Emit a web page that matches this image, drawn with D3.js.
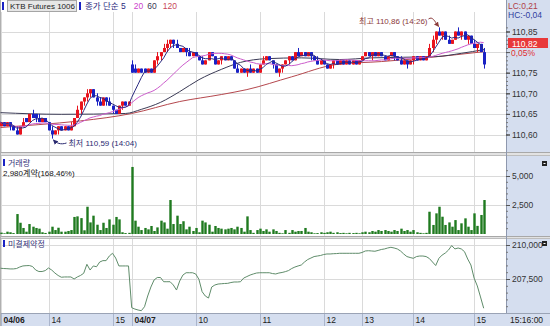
<!DOCTYPE html>
<html><head><meta charset="utf-8">
<script src="https://cdn.jsdelivr.net/npm/d3@7/dist/d3.min.js"></script>
<style>html,body{margin:0;padding:0;background:#fff}svg{display:block}</style>
</head><body>
<svg id="chart" width="550" height="326"></svg>
<script>
// ---------- DATA (3-minute bars, 04/06 afternoon + 04/07) ----------
const openP=[110.62,110.63,110.62,110.63,110.62,110.61,110.60,110.62,110.64,110.63,
110.65,110.65,110.64,110.63,110.64,110.63,110.61,110.60,110.61,110.62,
110.61,110.62,110.61,110.62,110.64,110.66,110.68,110.69,110.70,110.71,
110.69,110.68,110.67,110.69,110.68,110.67,110.66,110.65,110.67,110.68,
110.67,110.77,110.76,110.75,110.76,110.76,110.75,110.76,110.75,110.78,
110.79,110.80,110.81,110.82,110.83,110.82,110.81,110.80,110.81,110.80,
110.79,110.80,110.79,110.78,110.77,110.78,110.80,110.79,110.77,110.78,
110.79,110.78,110.79,110.78,110.76,110.75,110.76,110.75,110.76,110.75,
110.76,110.75,110.77,110.78,110.79,110.78,110.77,110.75,110.76,110.77,
110.78,110.79,110.78,110.80,110.79,110.80,110.79,110.80,110.79,110.78,
110.77,110.78,110.77,110.76,110.77,110.78,110.77,110.78,110.77,110.78,
110.77,110.78,110.77,110.78,110.79,110.80,110.79,110.80,110.79,110.80,
110.79,110.78,110.79,110.80,110.79,110.78,110.77,110.78,110.77,110.78,
110.79,110.78,110.79,110.78,110.79,110.81,110.83,110.85,110.84,110.85,
110.83,110.82,110.83,110.85,110.84,110.85,110.83,110.84,110.82,110.81,
110.82,110.80];
const highP=[110.63,110.63,110.63,110.63,110.62,110.62,110.62,110.64,110.64,110.65,
110.66,110.65,110.65,110.64,110.64,110.63,110.62,110.61,110.62,110.62,
110.62,110.62,110.63,110.64,110.67,110.68,110.69,110.71,110.71,110.71,
110.70,110.69,110.69,110.69,110.69,110.67,110.66,110.67,110.68,110.68,
110.68,110.78,110.77,110.76,110.76,110.76,110.76,110.76,110.78,110.80,
110.80,110.82,110.83,110.83,110.83,110.83,110.81,110.81,110.81,110.81,
110.80,110.80,110.79,110.79,110.78,110.80,110.80,110.79,110.78,110.79,
110.79,110.79,110.79,110.78,110.77,110.76,110.76,110.76,110.77,110.76,
110.76,110.77,110.79,110.79,110.79,110.78,110.77,110.76,110.77,110.78,
110.79,110.79,110.80,110.81,110.80,110.80,110.80,110.80,110.79,110.79,
110.78,110.78,110.77,110.77,110.78,110.78,110.78,110.78,110.78,110.78,
110.78,110.78,110.78,110.79,110.80,110.80,110.80,110.80,110.80,110.80,
110.79,110.79,110.80,110.80,110.79,110.79,110.78,110.78,110.78,110.79,
110.79,110.79,110.79,110.79,110.82,110.84,110.85,110.86,110.85,110.85,
110.84,110.83,110.85,110.86,110.85,110.85,110.84,110.84,110.83,110.82,
110.82,110.81];
const lowP=[110.62,110.62,110.62,110.61,110.61,110.60,110.60,110.62,110.63,110.63,
110.64,110.63,110.63,110.63,110.63,110.61,110.59,110.60,110.60,110.61,
110.61,110.61,110.61,110.62,110.64,110.65,110.67,110.68,110.69,110.69,
110.67,110.67,110.67,110.67,110.67,110.65,110.65,110.65,110.66,110.67,
110.67,110.75,110.75,110.75,110.75,110.75,110.75,110.75,110.75,110.77,
110.78,110.80,110.80,110.81,110.81,110.81,110.80,110.80,110.79,110.79,
110.79,110.79,110.78,110.77,110.77,110.78,110.79,110.77,110.77,110.77,
110.78,110.78,110.78,110.76,110.75,110.75,110.75,110.74,110.75,110.75,
110.75,110.75,110.77,110.78,110.78,110.76,110.75,110.74,110.75,110.77,
110.77,110.78,110.78,110.79,110.79,110.79,110.79,110.78,110.78,110.77,
110.77,110.77,110.76,110.76,110.76,110.77,110.77,110.77,110.77,110.77,
110.77,110.77,110.77,110.78,110.79,110.79,110.78,110.79,110.79,110.79,
110.78,110.78,110.79,110.78,110.78,110.77,110.77,110.76,110.77,110.77,
110.78,110.78,110.78,110.78,110.79,110.80,110.82,110.84,110.83,110.83,
110.82,110.82,110.83,110.84,110.83,110.83,110.82,110.82,110.81,110.80,
110.80,110.76];
const closeP=[110.63,110.62,110.63,110.62,110.61,110.60,110.62,110.63,110.63,110.65,
110.64,110.64,110.63,110.64,110.63,110.61,110.60,110.61,110.62,110.61,
110.62,110.61,110.62,110.64,110.66,110.68,110.69,110.70,110.71,110.69,
110.68,110.67,110.69,110.68,110.67,110.66,110.65,110.67,110.68,110.67,
110.68,110.75,110.75,110.76,110.75,110.75,110.76,110.75,110.78,110.79,
110.80,110.81,110.82,110.83,110.82,110.81,110.80,110.81,110.80,110.79,
110.80,110.79,110.78,110.77,110.78,110.80,110.79,110.77,110.78,110.79,
110.78,110.79,110.78,110.76,110.75,110.76,110.75,110.76,110.75,110.76,
110.75,110.77,110.78,110.79,110.78,110.77,110.75,110.76,110.77,110.78,
110.79,110.78,110.80,110.79,110.80,110.79,110.80,110.79,110.78,110.77,
110.78,110.77,110.76,110.77,110.78,110.77,110.78,110.77,110.78,110.77,
110.78,110.77,110.78,110.79,110.80,110.79,110.80,110.79,110.80,110.79,
110.78,110.79,110.80,110.79,110.78,110.77,110.78,110.77,110.78,110.79,
110.78,110.79,110.78,110.79,110.81,110.83,110.85,110.84,110.85,110.83,
110.82,110.83,110.85,110.84,110.85,110.83,110.84,110.82,110.81,110.82,
110.80,110.77];
const volume=[120,60,200,150,80,1720,970,520,200,860,
630,520,460,150,90,200,630,340,540,200,
200,260,340,1470,1520,1370,320,2350,1000,1580,
800,340,970,520,1260,800,1470,1260,150,80,
100,5780,1150,630,340,520,400,690,260,570,
1150,1000,460,2930,860,1580,860,1100,400,630,
260,520,150,1150,1000,800,200,690,520,460,
400,460,520,400,630,520,200,1520,340,100,
340,460,260,400,200,400,260,100,60,340,
100,340,200,260,260,520,200,150,60,80,
150,100,150,200,100,150,80,100,60,100,
80,100,60,150,200,150,260,200,340,260,
340,260,200,340,260,460,260,340,200,340,
150,100,60,100,1920,780,1780,2350,1490,780,
1000,630,1200,340,920,1350,630,340,1780,700,
1640,2930];
const openInterest=[208290,208270,208260,208240,208240,208270,208380,208460,208480,208490,
208420,208160,208050,208050,208120,208310,208160,207940,207760,207630,
207650,207650,207650,207500,207650,207760,207920,208580,208160,208460,
208400,208750,208850,208850,209190,209390,209040,208460,208460,208460,
208460,205390,205290,205220,205170,205460,206250,206910,207430,207610,
207610,207300,207300,207300,207060,206690,207350,207790,207960,207960,
207960,207870,207480,206570,206250,206100,206910,207060,207130,207150,
207170,207180,207240,207280,207280,207300,207570,207680,207790,207870,
207940,207960,207960,207960,207960,207900,207870,207940,207980,208040,
208120,208270,208380,208460,208530,208750,208930,209040,209150,209190,
209230,209300,209340,209340,209360,209370,209390,209390,209390,209390,
209390,209390,209390,209450,209560,209580,209560,209540,209600,209670,
209710,209780,209830,209780,209710,209560,209340,209150,209080,209020,
209150,209190,209190,209150,209010,208750,208490,209020,209260,209410,
209630,209960,209710,209780,209710,209510,208970,208530,207570,206990,
206180,205350];
// 60 / 120 moving averages: [bar index, value]
const ma60Pts=[[0,110.653],[19,110.649],[39,110.651],[44,110.661],[50,110.678],[56,110.704],[62,110.733],[69,110.758],[75,110.775],[83,110.784],[94,110.786],[106,110.782],[116,110.786],[136,110.789],[144,110.797],[151,110.806]];
const ma120Pts=[[0,110.617],[12,110.624],[25,110.633],[41,110.651],[56,110.680],[69,110.697],[77,110.709],[91,110.740],[105,110.770],[119,110.777],[134,110.787],[151,110.801]];
const tickIdx=[0,15,35,41,61,81,101,113,129,148];
const tickLabels=["04/06","14","15","04/07","10","11","12","13","14","15"];
const boldTicks=["04/06","04/07"];
const priceTicks=[110.60,110.65,110.70,110.75,110.80,110.85];
const priceLabelTicks=[110.60,110.65,110.70,110.75,110.85];
const volTicks=[2500,5000];
const oiTicks=[207500,210000];

// ---------- LAYOUT ----------
const W=550,H=326,PR=506;
const FONT='"Liberation Sans","Noto Sans CJK KR",Arial,sans-serif';
const AXBG='#d5deef';
const RED='#e8141e', BLUE='#1a22c4';
const svg=d3.select('#chart').attr('font-family',FONT);

const x=d3.scaleLinear().domain([0,158]).range([0.5,506.1]);
const yP=d3.scaleLinear().domain([110.60,110.85]).range([134.5,31.5]);
const yV=d3.scaleLinear().domain([0,5000]).range([234,176]);
const yO=d3.scaleLinear().domain([207500,210000]).range([279,245]);
const px=i=>Math.round(x(i))+0.5;

const defs=svg.append('defs');
[['clipP',12,152],['clipV',156,236],['clipO',239,313]].forEach(([id,y0,y1])=>{
  defs.append('clipPath').attr('id',id).append('rect').attr('x',0).attr('y',y0).attr('width',PR).attr('height',y1-y0);
});
function arrowMarker(id,color){
  defs.append('marker').attr('id',id).attr('viewBox','0 0 6 6').attr('refX',5).attr('refY',3)
   .attr('markerWidth',5).attr('markerHeight',5).attr('orient','auto')
   .append('path').attr('d','M0,0L6,3L0,6Z').attr('fill',color);
}
arrowMarker('arH','#8b3a3a'); arrowMarker('arL','#2a2a70');

// backgrounds
svg.append('rect').attr('width',W).attr('height',H).attr('fill','#fff');
svg.append('rect').attr('x',PR).attr('y',0).attr('width',W-PR).attr('height',313).attr('fill',AXBG);
svg.append('rect').attr('x',0).attr('y',313).attr('width',W).attr('height',13).attr('fill',AXBG);

// grid
const grid=svg.append('g').attr('stroke','#dadada').attr('stroke-width',1);
grid.selectAll('line.v').data(tickIdx).join('line').attr('class','v')
  .attr('x1',d=>px(d)).attr('x2',d=>px(d)).attr('y1',12).attr('y2',313);
grid.selectAll('line.hp').data(priceTicks).join('line').attr('class','hp')
  .attr('x1',0).attr('x2',PR).attr('y1',d=>Math.round(yP(d))+0.5).attr('y2',d=>Math.round(yP(d))+0.5);
grid.selectAll('line.hv').data(volTicks).join('line').attr('class','hv')
  .attr('x1',0).attr('x2',PR).attr('y1',d=>Math.round(yV(d))+0.5).attr('y2',d=>Math.round(yV(d))+0.5);
grid.selectAll('line.ho').data(oiTicks).join('line').attr('class','ho')
  .attr('x1',0).attr('x2',PR).attr('y1',d=>Math.round(yO(d))+0.5).attr('y2',d=>Math.round(yO(d))+0.5);
// axis strip separators
svg.append('g').selectAll('line').data(tickIdx).join('line')
  .attr('x1',d=>px(d)).attr('x2',d=>px(d)).attr('y1',313).attr('y2',326).attr('stroke','#aab5cc');

// panel separators
[[152,155],[236,238]].forEach(([a,b])=>{
  svg.append('rect').attr('x',0).attr('y',a).attr('width',W).attr('height',b-a+1).attr('fill','#e2e2e2');
  svg.append('line').attr('x1',0).attr('x2',W).attr('y1',a+0.5).attr('y2',a+0.5).attr('stroke','#a8a8a8');
  svg.append('line').attr('x1',0).attr('x2',W).attr('y1',b+0.5).attr('y2',b+0.5).attr('stroke','#bdbdbd');
});
svg.append('line').attr('x1',0).attr('x2',W).attr('y1',313.5).attr('y2',313.5).attr('stroke','#9aa3b5');
svg.append('line').attr('x1',PR+0.5).attr('x2',PR+0.5).attr('y1',0).attr('y2',313).attr('stroke','#8e98ae');
svg.append('line').attr('x1',0.5).attr('x2',0.5).attr('y1',0).attr('y2',326).attr('stroke','#b0b0b0');

// ---------- PRICE PANEL ----------
const idx=d3.range(closeP.length);
const col=i=>closeP[i]>=openP[i]?RED:BLUE;
function sma(arr,n){return arr.map((d,i)=>d3.mean(arr.slice(Math.max(0,i-n+1),i+1)));}
const ma5=sma(closeP,5), ma20=sma(closeP,20);

const gP=svg.append('g').attr('clip-path','url(#clipP)');
const lineIdx=d3.line().x((d,i)=>x(i)).y(d=>yP(d));
const linePts=d3.line().x(d=>x(d[0])).y(d=>yP(d[1])).curve(d3.curveMonotoneX);
gP.append('path').attr('d',linePts(ma120Pts)).attr('fill','none').attr('stroke','#b5484e').attr('stroke-width',1);
gP.append('path').attr('d',linePts(ma60Pts)).attr('fill','none').attr('stroke','#3a3a55').attr('stroke-width',1);

gP.selectAll('line.wick').data(idx).join('line').attr('class','wick')
  .attr('x1',i=>px(i)).attr('x2',i=>px(i))
  .attr('y1',i=>yP(highP[i])).attr('y2',i=>yP(lowP[i])).attr('stroke',col).attr('stroke-width',1);
gP.selectAll('rect.body').data(idx).join('rect').attr('class','body')
  .attr('x',i=>px(i)-1.5).attr('width',3)
  .attr('y',i=>Math.min(yP(openP[i]),yP(closeP[i])))
  .attr('height',i=>Math.max(1,Math.abs(yP(openP[i])-yP(closeP[i]))))
  .attr('fill',col);

gP.append('path').attr('d',lineIdx(ma20)).attr('fill','none').attr('stroke','#cc5ccc').attr('stroke-width',1);
gP.append('path').attr('d',lineIdx(ma5)).attr('fill','none').attr('stroke','#2a2a80').attr('stroke-width',1);

// annotations
const hiI=d3.maxIndex(highP), loI=d3.minIndex(lowP);
svg.append('text').attr('x',px(hiI)-12).attr('y',24).attr('text-anchor','end')
  .attr('font-size',8).attr('fill','#8b3a3a').text('최고 110,86 (14:26)');
svg.append('path').attr('d',`M${px(hiI)-11},19 C${px(hiI)-7},16 ${px(hiI)-5},21 ${px(hiI)-1},${yP(highP[hiI])-1}`)
  .attr('fill','none').attr('stroke','#8b3a3a').attr('marker-end','url(#arH)');
svg.append('text').attr('x',px(loI)+16).attr('y',146)
  .attr('font-size',8).attr('fill','#2a2a70').text('최저 110,59 (14:04)');
svg.append('path').attr('d',`M${px(loI)+14},143 C${px(loI)+8},145 ${px(loI)+4},143 ${px(loI)+1},${yP(lowP[loI])+1.5}`)
  .attr('fill','none').attr('stroke','#2a2a70').attr('marker-end','url(#arL)');

// header
svg.append('rect').attr('x',2).attr('y',2).attr('width',2).attr('height',8).attr('fill','#1a22c4');
svg.append('rect').attr('x',7.5).attr('y',0.5).attr('width',69).attr('height',11).attr('fill','#e6e6e6').attr('stroke','#a5a5a5');
svg.append('text').attr('x',10).attr('y',9).attr('font-size',8).attr('fill','#222').text('KTB Futures 1006');
svg.append('rect').attr('x',79).attr('y',2).attr('width',2).attr('height',8).attr('fill','#1a22c4');
const leg=svg.append('text').attr('x',85).attr('y',9).attr('font-size',8.5);
leg.append('tspan').attr('fill','#2a2a80').text('종가 단순 5');
leg.append('tspan').attr('fill','#cc44cc').attr('dx',8).text('20');
leg.append('tspan').attr('fill','#3a3a55').attr('dx',4).text('60');
leg.append('tspan').attr('fill','#c8485a').attr('dx',6).text('120');

// ---------- VOLUME PANEL ----------
const gV=svg.append('g').attr('clip-path','url(#clipV)');
gV.selectAll('rect').data(idx).join('rect')
  .attr('x',i=>px(i)-1.2).attr('width',2.4)
  .attr('y',i=>yV(volume[i])).attr('height',i=>yV(0)-yV(volume[i]))
  .attr('fill','#1f7a1f');
svg.append('rect').attr('x',3).attr('y',159).attr('width',2).attr('height',7).attr('fill','#1a22c4');
svg.append('text').attr('x',8).attr('y',166).attr('font-size',8).attr('fill','#333377').text('거래량');
svg.append('text').attr('x',3).attr('y',176).attr('font-size',8).attr('fill','#111').text('2,980계약(168,46%)');

// ---------- OPEN INTEREST PANEL ----------
const gO=svg.append('g').attr('clip-path','url(#clipO)');
gO.append('path').attr('d',d3.line().x((d,i)=>x(i)).y(d=>yO(d))(openInterest))
  .attr('fill','none').attr('stroke','#5f8c6a').attr('stroke-width',1);
svg.append('rect').attr('x',3).attr('y',240).attr('width',2).attr('height',7).attr('fill','#1a22c4');
svg.append('text').attr('x',8).attr('y',247).attr('font-size',8).attr('fill','#333377').text('미결제약정');

// ---------- RIGHT AXES ----------
function styleAxis(g){
  g.select('.domain').remove();
  g.attr('font-family',FONT).attr('font-size',8.5);
  g.selectAll('text').attr('fill','#333');
  g.selectAll('line').attr('stroke','#555');
}
const minorP=d3.range(11060,11087).map(v=>v/100);
svg.append('g').attr('transform',`translate(${PR},0)`).call(d3.axisRight(yP).tickValues(minorP).tickSize(2).tickFormat(''))
  .call(g=>{g.select('.domain').remove();g.selectAll('line').attr('stroke','#777');});
svg.append('g').attr('transform',`translate(${PR},0)`)
  .call(d3.axisRight(yP).tickValues(priceTicks).tickSize(4).tickFormat(''))
  .call(styleAxis);
svg.append('g').attr('transform',`translate(${PR},0)`)
  .call(d3.axisRight(yP).tickValues(priceLabelTicks).tickSize(4).tickPadding(2).tickFormat(d=>d3.format('.2f')(d).replace('.',',')))
  .call(styleAxis);
svg.append('g').attr('transform',`translate(${PR},0)`).call(d3.axisRight(yV).tickValues(d3.range(500,5600,500)).tickSize(2).tickFormat(''))
  .call(g=>{g.select('.domain').remove();g.selectAll('line').attr('stroke','#777');});
svg.append('g').attr('transform',`translate(${PR},0)`)
  .call(d3.axisRight(yV).tickValues(volTicks).tickSize(4).tickPadding(2).tickFormat(d3.format(',')))
  .call(styleAxis);
svg.append('g').attr('transform',`translate(${PR},0)`).call(d3.axisRight(yO).tickValues(d3.range(205000,210600,500)).tickSize(2).tickFormat(''))
  .call(g=>{g.select('.domain').remove();g.selectAll('line').attr('stroke','#777');g.selectAll('.tick').filter(d=>yO(d)<240||yO(d)>312).remove();});
svg.append('g').attr('transform',`translate(${PR},0)`)
  .call(d3.axisRight(yO).tickValues(oiTicks).tickSize(4).tickPadding(2).tickFormat(d3.format(',')))
  .call(styleAxis);

// right-panel extras
svg.append('text').attr('x',508).attr('y',8.5).attr('font-size',8.5).attr('fill','#b04048').text('LC:0,21');
svg.append('text').attr('x',508).attr('y',17.5).attr('font-size',8.5).attr('fill','#3040a0').text('HC:-0,04');
svg.append('rect').attr('x',508).attr('y',38).attr('width',40).attr('height',10).attr('fill','#e8383a');
svg.append('text').attr('x',512).attr('y',46.5).attr('font-size',8.5).attr('fill','#fff').text('110,82');
svg.append('text').attr('x',511).attr('y',56).attr('font-size',8.5).attr('fill','#e03030').text('0,05%');
[161,241].forEach(yy=>{
  svg.append('rect').attr('x',542).attr('y',yy).attr('width',5).attr('height',5).attr('fill','#222');
  svg.append('rect').attr('x',543.5).attr('y',yy+2).attr('width',2).attr('height',1).attr('fill','#fff');
});

// ---------- BOTTOM TIME AXIS ----------
svg.append('g').selectAll('text').data(tickIdx).join('text')
  .attr('x',d=>px(d)+2).attr('y',323).attr('font-size',8.5)
  .attr('font-weight',(d,i)=>boldTicks.includes(tickLabels[i])?'bold':'normal')
  .attr('fill','#222').text((d,i)=>tickLabels[i]);
svg.append('text').attr('x',510).attr('y',323).attr('font-size',8.5).attr('fill','#222').text('15:16:00');
</script>
</body></html>
